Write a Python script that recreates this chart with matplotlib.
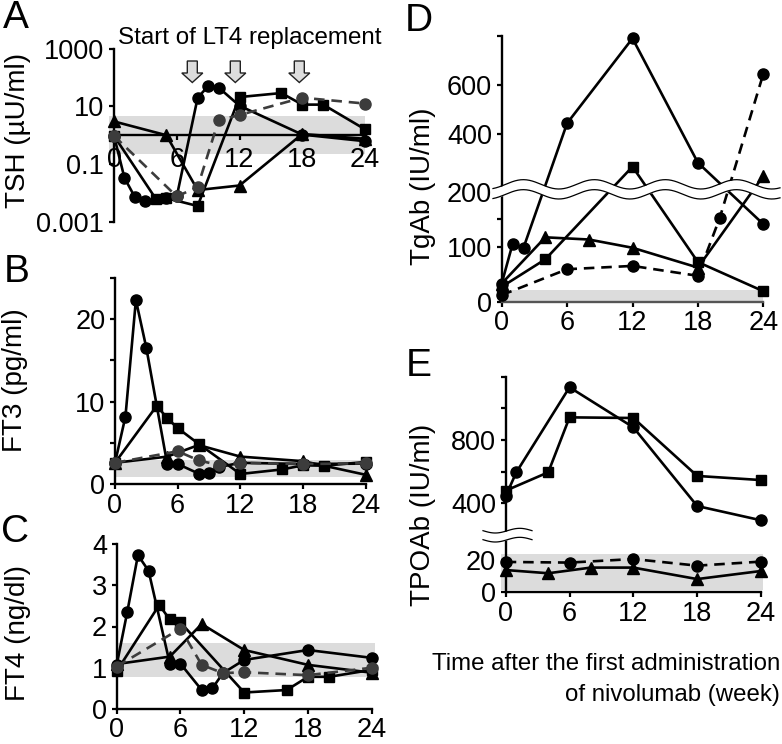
import numpy as np
import matplotlib
matplotlib.use("Agg")
import matplotlib.pyplot as plt
from matplotlib.patches import Polygon

plt.rcParams['font.family'] = ['Liberation Sans', 'DejaVu Sans']

W, H = 782, 744
TICKS = [0, 6, 12, 18, 24]
DARK = '#3c3c3c'
BAND = '#dcdcdc'

# Panel A: TSH
a_c_t = [0, 1, 2, 3, 5, 6, 8, 9, 10, 12, 18, 24]
a_c_v = [0.95, 0.033, 0.0071, 0.0053, 0.0065, 0.0075, 20, 50, 45, 10.5, 1.05, 0.62]
a_s_t = [0, 4, 5, 8, 12, 16, 18, 20, 24]
a_s_v = [0.95, 0.0062, 0.0066, 0.0035, 21, 29, 11.5, 11.5, 1.6]
a_t_t = [0, 5, 8, 12, 18, 24]
a_t_v = [3.0, 1.0, 0.0125, 0.018, 1.1, 0.75]
a_d_t = [0, 6, 8, 10, 12, 18, 24]
a_d_v = [0.95, 0.0075, 0.016, 3.3, 5.0, 20, 12.5]

# Panel B: FT3
b_c_t = [0, 1, 2, 3, 5, 6, 8, 9, 10, 12, 18, 24]
b_c_v = [2.6, 8.2, 22.3, 16.5, 2.46, 2.46, 1.3, 1.4, 2.1, 2.6, 2.46, 2.5]
b_s_t = [0, 4, 5, 6, 8, 12, 16, 18, 20, 24]
b_s_v = [2.6, 9.5, 8.0, 6.8, 4.9, 1.25, 1.8, 2.3, 2.25, 2.7]
b_t_t = [0, 5, 8, 12, 18, 24]
b_t_v = [2.6, 3.35, 4.75, 3.35, 2.8, 1.15]
b_d_t = [0, 6, 8, 10, 12, 18, 24]
b_d_v = [2.6, 4.0, 2.9, 2.3, 2.6, 2.45, 2.55]

# Panel C: FT4
c_c_t = [0, 1, 2, 3, 5, 6, 8, 9, 10, 12, 18, 24]
c_c_v = [1.07, 2.36, 3.73, 3.35, 1.1, 1.1, 0.46, 0.5, 0.87, 1.19, 1.43, 1.24]
c_s_t = [0, 4, 5, 6, 12, 16, 18, 20, 24]
c_s_v = [0.92, 2.52, 2.17, 2.1, 0.4, 0.46, 0.78, 0.78, 0.95]
c_t_t = [0, 5, 8, 12, 18, 24]
c_t_v = [1.09, 1.27, 2.06, 1.43, 1.07, 0.88]
c_d_t = [0, 6, 8, 10, 12, 18, 24]
c_d_v = [1.03, 1.95, 1.07, 0.87, 0.89, 0.82, 1.0]

# Panel D: TgAb
d_c_t = [0, 1, 2, 6, 12, 18, 24]
d_c_v = [33, 105, 98, 445, 789, 285, 141]
d_s_t = [0, 4, 12, 18, 24]
d_s_v = [27, 77, 269, 72, 19]
d_t_t = [0, 4, 8, 12, 18, 24]
d_t_v = [33, 117, 113, 98, 62, 231]
d_d_t = [0, 6, 12, 18, 20, 24]
d_d_v = [12, 59, 65, 47, 152, 645]

# Panel E: TPOAb
e_c_t = [0, 1, 6, 12, 18, 24]
e_c_v = [446, 596, 1133, 880, 383, 293]
e_s_t = [0, 4, 6, 12, 18, 24]
e_s_v = [480, 596, 943, 939, 573, 547]
e_t_t = [0, 4, 8, 12, 18, 24]
e_t_v = [13.8, 11.8, 15.3, 15.3, 8.2, 13.2]
e_d_t = [0, 6, 12, 18, 24]
e_d_v = [18.8, 18.4, 20.6, 16.5, 19]

fig = plt.figure(figsize=(W / 100, H / 100), dpi=100)


def make_ax(x0, x1, ytop, ybot):
    ax = fig.add_axes([x0 / W, 1 - ybot / H, (x1 - x0) / W, (ybot - ytop) / H])
    ax.patch.set_alpha(0)
    ax.set_xlim(0, 24)
    ax.spines['top'].set_visible(False)
    ax.spines['right'].set_visible(False)
    for s in ('left', 'bottom'):
        ax.spines[s].set_linewidth(1.7)
    ax.tick_params(axis='both', which='major', direction='out', length=3.5, width=1.6,
                   labelsize=19.5, pad=2.5)
    ax.tick_params(axis='y', which='major', pad=3.5)
    ax.tick_params(axis='y', which='minor', direction='out', length=3.5, width=1.6)
    ax.set_xticks(TICKS)
    return ax


def curve(ax, t, v, marker, ms=8, color='black', dashed=False, lw=1.9, z=3):
    ax.plot(t, v, color=color, lw=lw, marker=marker, ms=ms, mfc=color, mec=color,
            ls=(0, (4, 2.6)) if dashed else '-', clip_on=False, zorder=z)


def draw(ax, cs, ss, ts, ds, dcolor=DARK):
    curve(ax, *ts, '^', ms=8.5)
    curve(ax, *ss, 's', ms=7.5)
    curve(ax, *cs, 'o')
    curve(ax, *ds, 'o', color=dcolor, dashed=True, z=4)


def band(ax, lo, hi, tmin=0, tmax=24):
    ax.fill_between([tmin, tmax], lo, hi, color=BAND, lw=0, zorder=1, clip_on=False)


def lab(x, y, s, **kw):
    fig.text(x / W, 1 - y / H, s, **kw)


# A
axA = make_ax(114, 365, 48.7, 221.7)
axA.set_yscale('log')
axA.set_ylim(1e-3, 1e3)
axA.spines['bottom'].set_position(('data', 1))
axA.set_yticks([1e-3, 1e-1, 1e1, 1e3], ['0.001', '0.1', '10', '1000'])
axA.minorticks_off()
axA.set_xticks(TICKS)
axA.tick_params(axis='x', pad=5)
band(axA, 0.22, 4.7, -0.5, 24)
draw(axA, (a_c_t, a_c_v), (a_s_t, a_s_v), (a_t_t, a_t_v), (a_d_t, a_d_v))

# B
axB = make_ax(115, 365.7, 277.7, 484.3)
axB.set_ylim(0, 25)
axB.set_yticks([0, 10, 20])
axB.set_yticks([5, 15, 25], minor=True)
band(axB, 0.85, 2.94)
draw(axB, (b_c_t, b_c_v), (b_s_t, b_s_v), (b_t_t, b_t_v), (b_d_t, b_d_v))

# C
axC = make_ax(116.7, 371.7, 544, 709)
axC.set_ylim(0, 4)
axC.set_yticks([0, 1, 2, 3, 4])
band(axC, 0.78, 1.59, 0, 24.3)
draw(axC, (c_c_t, c_c_v), (c_s_t, c_s_v), (c_t_t, c_t_v), (c_d_t, c_d_v))

# D: broken axis, drawn by a piecewise scale (heights in zoomed pixels)
d_val = [0, 200, 201, 800]
d_pos = [0, 330, 354.7, 798]
axD = make_ax(501.7, 763.3, 905 / 3 - 798 / 3, 905 / 3)
axD.set_yscale('function', functions=(lambda y: np.interp(y, d_val, d_pos),
                                      lambda p: np.interp(p, d_pos, d_val)))
axD.set_ylim(0, 800)
axD.set_yticks([0, 100, 200, 400, 600, 800], ['0', '100', '200', '400', '600', ''])
axD.set_yticks([150], minor=True)
band(axD, 0, 22)
axD.spines['bottom'].set_color('#555555')
draw(axD, (d_c_t, d_c_v), (d_s_t, d_s_v), (d_t_t, d_t_v), (d_d_t, d_d_v), dcolor='black')

# E: broken axis
e_val = [0, 30, 160, 1200]
e_pos = [0, 145.5, 153, 647]
axE = make_ax(505.7, 761, 340 + 110 / 3, 340 + 757 / 3)
axE.set_yscale('function', functions=(lambda y: np.interp(y, e_val, e_pos),
                                      lambda p: np.interp(p, e_pos, e_val)))
axE.set_ylim(0, 1200)
axE.set_yticks([0, 20, 400, 800], ['0', '20', '400', '800'])
axE.set_yticks([600, 1000, 1200], minor=True)
axE.fill_between([-0.4, 24.2], 1.4, 23.5, color=BAND, lw=0, zorder=1, clip_on=False)
curve(axE, e_t_t, e_t_v, '^', ms=8.5)
curve(axE, e_s_t, e_s_v, 's', ms=7.5)
curve(axE, e_c_t, e_c_v, 'o')
curve(axE, e_d_t, e_d_v, 'o', dashed=True)

# Overlay in pixel coordinates: arrows and axis-break waves
ov = fig.add_axes([0, 0, 1, 1], zorder=10)
ov.set_xlim(0, W)
ov.set_ylim(H, 0)
ov.axis('off')
for cx in (192.3, 235.3, 299.3):
    ov.add_patch(Polygon([(cx - 5, 61), (cx + 5, 61), (cx + 5, 73), (cx + 10.5, 73),
                          (cx, 82.5), (cx - 10.5, 73), (cx - 5, 73)],
                         closed=True, fc='#dddddd', ec='#222222', lw=1.0))

xw = np.linspace(493, 780, 300)
top = (553 - 14 * np.cos(2 * np.pi * ((xw - 400) * 3 - 370) / 213)) / 3
ov.fill_between(xw, top, top + 10, color='white', lw=0)
ov.plot(xw, top, color='black', lw=0.9)
ov.plot(xw, top + 10, color='black', lw=0.9)

xe = np.linspace(483, 532, 80)
te = 340 + (572 + 7 * np.sin(2 * np.pi * (xe - 483) / 49)) / 3
ov.fill_between(xe, te, te + 9, color='white', lw=0)
ov.plot(xe, te, color='black', lw=0.9)
ov.plot(xe, te + 9, color='black', lw=0.9)

# Texts
lab(250, 38, 'Start of LT4 replacement', fontsize=17.4, ha='center', va='center')
for s, x, y in (('A', 16, 18.5), ('B', 16.5, 272.5), ('C', 15, 531.5), ('D', 418.5, 21), ('E', 419, 366)):
    lab(x, y, s, fontsize=28, ha='center', va='center')
yl = dict(rotation=90, ha='center', va='center', fontsize=20)
lab(18, 130, 'TSH (µU/ml)', **yl)
lab(15, 380, 'FT3 (pg/ml)', **yl)
lab(18, 633, 'FT4 (ng/dl)', **yl)
lab(423, 186, 'TgAb (IU/ml)', **yl)
lab(423, 515, 'TPOAb (IU/ml)', **yl)
lab(780, 664, 'Time after the first administration', fontsize=17.3, ha='right', va='center')
lab(780, 695, 'of nivolumab (week)', fontsize=17.3, ha='right', va='center')

fig.savefig('out.png', dpi=100)
